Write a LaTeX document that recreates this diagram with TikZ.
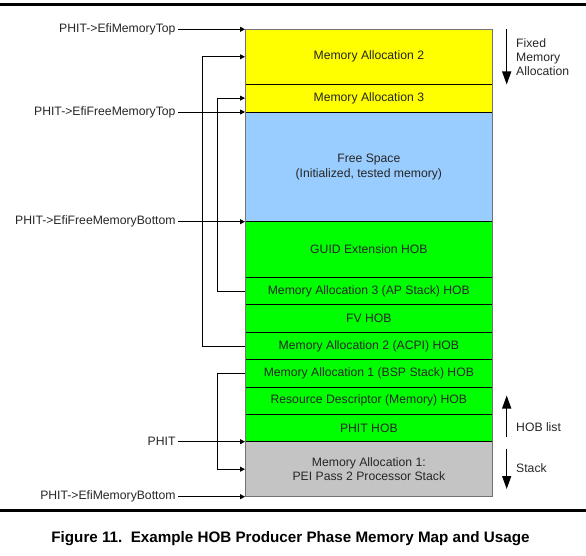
\documentclass[tikz,border=0pt]{standalone}
\usepackage{fontspec}
\setmainfont{Liberation Sans}
\usetikzlibrary{arrows.meta}
\definecolor{yel}{HTML}{FFFF00}
\definecolor{freeblue}{HTML}{99CCFF}
\definecolor{hobgreen}{HTML}{00FF00}
\definecolor{stackgray}{HTML}{C4C4C4}
\definecolor{txt}{HTML}{262626}
\begin{document}
\begin{tikzpicture}[x=1pt,y=-1pt,
  every node/.style={font=\fontsize{12.2}{14.6}\selectfont, text=txt},
  seg/.style={draw=black, line width=0.7pt, minimum width=247.7pt, inner sep=0pt, outer sep=0pt, align=center, anchor=north west},
  lbl/.style={anchor=east, inner sep=2.5pt, outer sep=0pt},
  conn/.style={line width=0.8pt, -{Triangle[length=5pt,width=5pt]}},
  bigarrow/.style={line width=1.4pt, -{Triangle[length=13pt,width=9pt]}},
  rule/.style={line width=3pt}
]
\useasboundingbox (0,0) rectangle (586,556);
% rules
\coordinate (r1a) at (0,5); \coordinate (r1b) at (586,5);
\coordinate (r2a) at (0,510.7); \coordinate (r2b) at (586,510.7);
\draw[rule] (r1a) -- (r1b);
\draw[rule] (r2a) -- (r2b);
% memory map
\node[seg, fill=yel, minimum height=55pt] (ma2) at (245,29.3) {Memory Allocation 2};
\node[seg, fill=yel, minimum height=27.7pt] (ma3) at (245,84.3) {Memory Allocation 3};
\node[seg, fill=freeblue, minimum height=109.7pt] (free) at (245,112) {Free Space\\(Initialized, tested memory)};
\node[seg, fill=hobgreen, minimum height=55.6pt] (guid) at (245,221.7) {GUID Extension HOB};
\node[seg, fill=hobgreen, minimum height=27.4pt] (ap) at (245,277.3) {Memory Allocation 3 (AP Stack) HOB};
\node[seg, fill=hobgreen, minimum height=27.6pt] (fv) at (245,304.7) {FV HOB};
\node[seg, fill=hobgreen, minimum height=27.4pt] (acpi) at (245,332.3) {Memory Allocation 2 (ACPI) HOB};
\node[seg, fill=hobgreen, minimum height=27.3pt] (bsp) at (245,359.7) {Memory Allocation 1 (BSP Stack) HOB};
\node[seg, fill=hobgreen, minimum height=27pt] (res) at (245,387) {Resource Descriptor (Memory) HOB};
\node[seg, fill=hobgreen, minimum height=27.7pt] (phithob) at (245,414) {PHIT HOB};
\node[seg, fill=stackgray, minimum height=55pt] (gray) at (245,441.7) {Memory Allocation 1:\\PEI Pass 2 Processor Stack};
\draw[black!55, line width=1pt] (ma2.north west) rectangle (gray.south east);
% left labels
\node[lbl] (lmt) at (178,29.3) {PHIT->EfiMemoryTop};
\node[lbl] (lfmt) at (178,112) {PHIT->EfiFreeMemoryTop};
\node[lbl] (lfmb) at (178,221.7) {PHIT->EfiFreeMemoryBottom};
\node[lbl] (lphit) at (178,441.7) {PHIT};
\node[lbl] (lmb) at (178,496.7) {PHIT->EfiMemoryBottom};
\draw[conn] (lmt.east) -- (lmt.east -| ma2.west);
\draw[conn] (lfmt.east) -- (lfmt.east -| free.west);
\draw[conn] (lfmb.east) -- (lfmb.east -| free.west);
\draw[conn] (lphit.east) -- (lphit.east -| gray.west);
\draw[conn] (lmb.east) -- (lmb.east -| gray.west);
% loop connectors
\draw[conn] (acpi.west) -| ([xshift=-42.3pt]ma2.west) -- (ma2.west);
\draw[conn] (ap.west) -| ([xshift=-27.3pt]ma3.west) -- (ma3.west);
\draw[conn] (bsp.west) -| ([xshift=-27.3pt]gray.west) -- (gray.west);
% right side
\coordinate (fa1) at (506.7,29.3); \coordinate (fa2) at (506.7,84.5);
\coordinate (ha1) at (506.7,437); \coordinate (ha2) at (506.7,395.5);
\coordinate (sa1) at (506.7,448.5); \coordinate (sa2) at (506.7,489);
\draw[bigarrow] (fa1) -- (fa2);
\draw[bigarrow] (ha1) -- (ha2);
\draw[bigarrow] (sa1) -- (sa2);
\node[anchor=west, align=left, inner sep=0pt, font=\fontsize{12.2}{14.3}\selectfont] (ftxt) at (516,57) {Fixed\\Memory\\Allocation};
\node[anchor=west, inner sep=0pt] (htxt) at (516,427) {HOB list};
\node[anchor=west, inner sep=0pt] (stxt) at (516,468.3) {Stack};
% caption
\node[font=\fontsize{15.2}{18}\selectfont\bfseries, text=black] (cap) at (290.5,539) {Figure 11.\ \ Example HOB Producer Phase Memory Map and Usage};
\end{tikzpicture}
\end{document}
